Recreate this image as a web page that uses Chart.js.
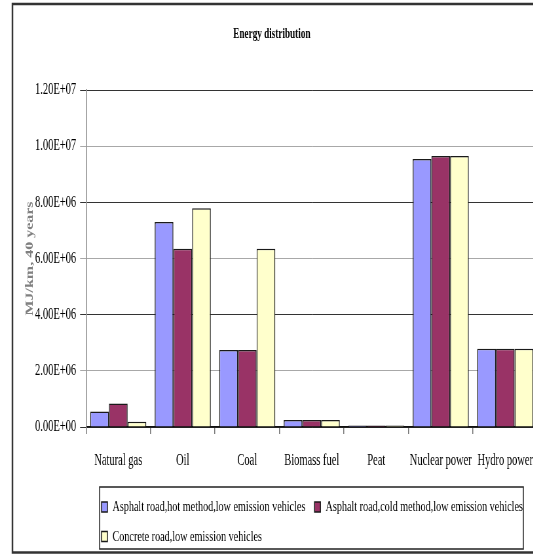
<!DOCTYPE html>
<html>
<head>
<meta charset="utf-8">
<script src="https://cdn.jsdelivr.net/npm/chart.js@4"></script>
<style>
  html, body { margin: 0; padding: 0; background: #fff; overflow: hidden; }
  /* the chart is laid out wide and squeezed sideways to get the narrow serif look */
  #wrap { width: 840px; height: 554px; transform: scaleX(0.655); transform-origin: 0 0; }
</style>
</head>
<body>
<div id="wrap"><canvas id="energyChart"></canvas></div>
<script>
const categories = ['Natural gas', 'Oil', 'Coal', 'Biomass fuel', 'Peat', 'Nuclear power', 'Hydro power'];

const asphaltHot = [550000, 7300000, 2740000, 250000, 50000, 9540000, 2790000];
const asphaltCold = [840000, 6350000, 2740000, 250000, 50000, 9650000, 2790000];
const concrete = [190000, 7790000, 6350000, 250000, 50000, 9650000, 2790000];

const seriesNames = [
  'Asphalt road,hot method,low emission vehicles',
  'Asphalt road,cold method,low emission vehicles',
  'Concrete road,low emission vehicles'
];

const yTickLabels = ['0.00E+00', '2.00E+06', '4.00E+06', '6.00E+06', '8.00E+06', '1.00E+07', '1.20E+07'];

const serif = 'Liberation Serif, Times New Roman, serif';

// outer frame, legend box, and moving legend/title where they belong
const frameBox = {
  id: 'frameBox',
  beforeDraw(chart) {
    const legend = chart.legend;
    legend.left = 141;
    legend.right = 840;
    legend.top = 485.25;
    const title = chart.titleBlock;
    title.left = 19;
    title.right = 811;
  },
  afterDraw(chart) {
    const ctx = chart.ctx;
    ctx.save();
    ctx.strokeStyle = '#333';
    ctx.lineWidth = 2.5;
    ctx.beginPath();
    ctx.moveTo(860, 4);
    ctx.lineTo(19, 4);
    ctx.lineTo(19, 552.5);
    ctx.lineTo(860, 552.5);
    ctx.stroke();
    ctx.lineWidth = 1.5;
    ctx.strokeStyle = '#222';
    ctx.strokeRect(152, 487, 647, 62);
    ctx.restore();
  }
};

const ctx = document.getElementById('energyChart').getContext('2d');
new Chart(ctx, {
  type: 'bar',
  data: {
    labels: categories,
    datasets: [
      { label: seriesNames[0], data: asphaltHot, backgroundColor: '#9999FF' },
      { label: seriesNames[1], data: asphaltCold, backgroundColor: '#993366' },
      { label: seriesNames[2], data: concrete, backgroundColor: '#FFFFCC' }
    ].map(d => Object.assign(d, {
      borderColor: '#1a1a1a',
      borderWidth: 1.5,
      categoryPercentage: 0.87,
      barPercentage: 1
    }))
  },
  options: {
    responsive: true,
    maintainAspectRatio: false,
    animation: false,
    layout: { padding: { left: 36, right: 19.4, top: 0, bottom: 0 } },
    plugins: {
      title: {
        display: true,
        text: 'Energy distribution',
        color: '#000',
        font: { family: serif, size: 14, weight: 'bold' },
        padding: { top: 25.6, bottom: 47.6 }
      },
      legend: {
        position: 'bottom',
        align: 'start',
        labels: {
          color: '#000',
          font: { family: serif, size: 15.5 },
          boxWidth: 9,
          boxHeight: 10,
          padding: 14
        }
      },
      tooltip: { enabled: false }
    },
    scales: {
      x: {
        grid: { offset: true, drawOnChartArea: false, color: '#777', lineWidth: 1.5, tickLength: 7 },
        border: { color: '#111', width: 1.5 },
        ticks: { color: '#000', font: { family: serif, size: 16 }, padding: 17, maxRotation: 0, autoSkip: false },
        afterFit(s) { s.height = 554 - 427 - s.chart.legend.height; }
      },
      y: {
        min: 0,
        max: 12000000,
        grid: {
          color: c => (c.index % 2 === 0 ? '#333' : '#a8a8a8'),
          lineWidth: 1,
          tickLength: 9
        },
        border: { color: '#888', width: 1.5 },
        ticks: {
          stepSize: 2000000,
          color: '#000',
          padding: 6,
          font: { family: serif, size: 16 },
          callback: (v, i) => yTickLabels[i]
        },
        title: {
          display: true,
          text: 'MJ/km, 40 years',
          color: '#808080',
          font: { family: serif, size: 16, weight: 'bold' },
          padding: 0
        },
        afterFit(s) { s.width = 131.3 - 36; }
      }
    }
  },
  plugins: [frameBox]
});
</script>
</body>
</html>
